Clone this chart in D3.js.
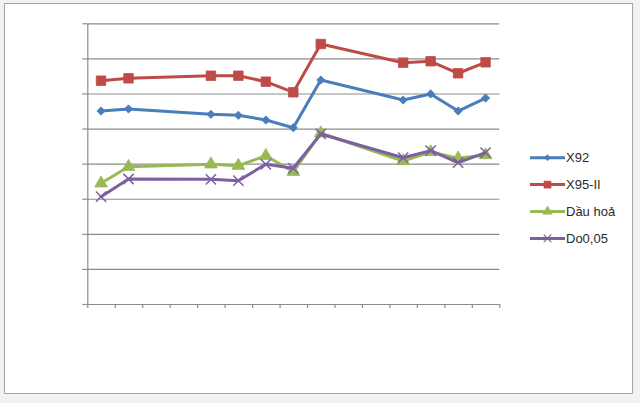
<!DOCTYPE html>
<html>
<head>
<meta charset="utf-8">
<script src="https://cdn.jsdelivr.net/npm/d3@7"></script>
<style>
  html, body { margin: 0; padding: 0; background: #f2f2f2; }
  svg { display: block; }
</style>
</head>
<body>
<script>
// ---- data ----
const categories = ["1","2","3","4","5","6","7","8","9","10","11","12","13","14","15"];
const seriesNames = ["X92", "X95-II", "Dầu hoả", "Do0,05"];
const x92   = [27500, 27790, null, null, 27030, 26890, 26220, 25120, 31920, null, null, 29070, 29930, 27500, 29350];
const x95   = [31820, 32160, null, null, 32530, 32530, 31680, 30170, 37050, null, null, 34390, 34590, 32880, 34440];
const dauHoa = [17200, 19560, null, null, 19910, 19710, 21130, 18850, 24330, null, null, 20380, 21660, 20760, 21230];
const do005 = [15290, 17810, null, null, 17770, 17570, 19910, 19340, 24230, null, null, 20850, 21850, 20140, 21560];
const yTicks = [0, 5000, 10000, 15000, 20000, 25000, 30000, 35000, 40000];

const colors = ["#4a7ebb", "#be4b48", "#98b954", "#7d60a0"];
const allSeries = [x92, x95, dauHoa, do005];

const W = 640, H = 403;
const svg = d3.select("body").append("svg").attr("width", W).attr("height", H);

// chart area frame
svg.append("rect").attr("x", 4.5).attr("y", 3.5).attr("width", 628).attr("height", 390)
  .attr("fill", "#ffffff").attr("stroke", "#a6a6a6").attr("stroke-width", 1);

const plot = { left: 87.3, right: 499.3, top: 23.3, bottom: 304 };

const x = d3.scaleBand().domain(categories).range([plot.left, plot.right]).paddingInner(0).paddingOuter(0);
const xt = d3.scaleLinear().domain([0, categories.length]).range([plot.left, plot.right]);
const y = d3.scaleLinear().domain([0, 40000]).range([plot.bottom, plot.top]);

// gridlines
svg.append("g").attr("transform", `translate(${plot.left},0)`)
  .call(d3.axisLeft(y).tickValues(yTicks).tickSize(-(plot.right - plot.left)).tickFormat(""))
  .call(g => g.select(".domain").remove())
  .call(g => g.selectAll("line").attr("stroke", "#8c8c8c").attr("stroke-width", 1.2));

// y axis
svg.append("g").attr("transform", `translate(${plot.left},0)`)
  .call(d3.axisLeft(y).tickValues(yTicks).tickSize(5).tickSizeOuter(0).tickFormat(""))
  .call(g => g.selectAll("line,path").attr("stroke", "#8c8c8c").attr("stroke-width", 1.2));

// x axis
svg.append("g").attr("transform", `translate(0,${plot.bottom})`)
  .call(d3.axisBottom(xt).tickValues(d3.range(categories.length + 1)).tickSize(4).tickSizeOuter(0).tickFormat(""))
  .call(g => g.selectAll("line,path").attr("stroke", "#8c8c8c").attr("stroke-width", 1.2));

const cx = c => x(c) + x.bandwidth() / 2;

const symTimes = d3.symbolTimes || d3.symbolCross;
const symbols = [
  { type: d3.symbolSquare, size: 34, fill: true, rot: 45 },
  { type: d3.symbolSquare, size: 90, fill: true, rot: 0 },
  { type: d3.symbolTriangle, size: 70, fill: true, rot: 0 },
  { type: symTimes, size: 70, fill: false, rot: 0 }
];

const line = d3.line()
  .x(d => cx(d.c))
  .y(d => y(d.v))
  .curve(d3.curveLinear);

allSeries.forEach((vals, i) => {
  const pts = categories.map((c, j) => ({ c, v: vals[j] })).filter(d => d.v != null);
  const g = svg.append("g");
  g.append("path").datum(pts).attr("d", line)
    .attr("fill", "none").attr("stroke", colors[i]).attr("stroke-width", 3)
    .attr("stroke-linejoin", "round").attr("stroke-linecap", "round");
  const s = symbols[i];
  g.selectAll("path.m").data(pts).enter().append("path").attr("class", "m")
    .attr("d", d3.symbol().type(s.type).size(s.size))
    .attr("transform", d => `translate(${cx(d.c)},${y(d.v)}) rotate(${s.rot})`)
    .attr("fill", s.fill ? colors[i] : "none")
    .attr("stroke", colors[i])
    .attr("stroke-width", s.fill ? 0.8 : 1.5);
});

// legend
const legend = svg.append("g");
seriesNames.forEach((name, i) => {
  const ly = 157.7 + i * 26.9;
  const g = legend.append("g");
  g.append("line").attr("x1", 530).attr("x2", 565).attr("y1", ly).attr("y2", ly)
    .attr("stroke", colors[i]).attr("stroke-width", 3);
  const s = symbols[i];
  g.append("path").attr("d", d3.symbol().type(s.type).size(s.size * 0.55))
    .attr("transform", `translate(547.5,${ly}) rotate(${s.rot})`)
    .attr("fill", s.fill ? colors[i] : "none")
    .attr("stroke", colors[i]).attr("stroke-width", s.fill ? 0.6 : 1.2);
  g.append("text").attr("x", 566).attr("y", ly).attr("dy", "0.35em")
    .attr("font-family", "'Liberation Sans', Arial, sans-serif").attr("font-size", 13)
    .attr("fill", "#2a2a2a").text(name);
});
</script>
</body>
</html>
